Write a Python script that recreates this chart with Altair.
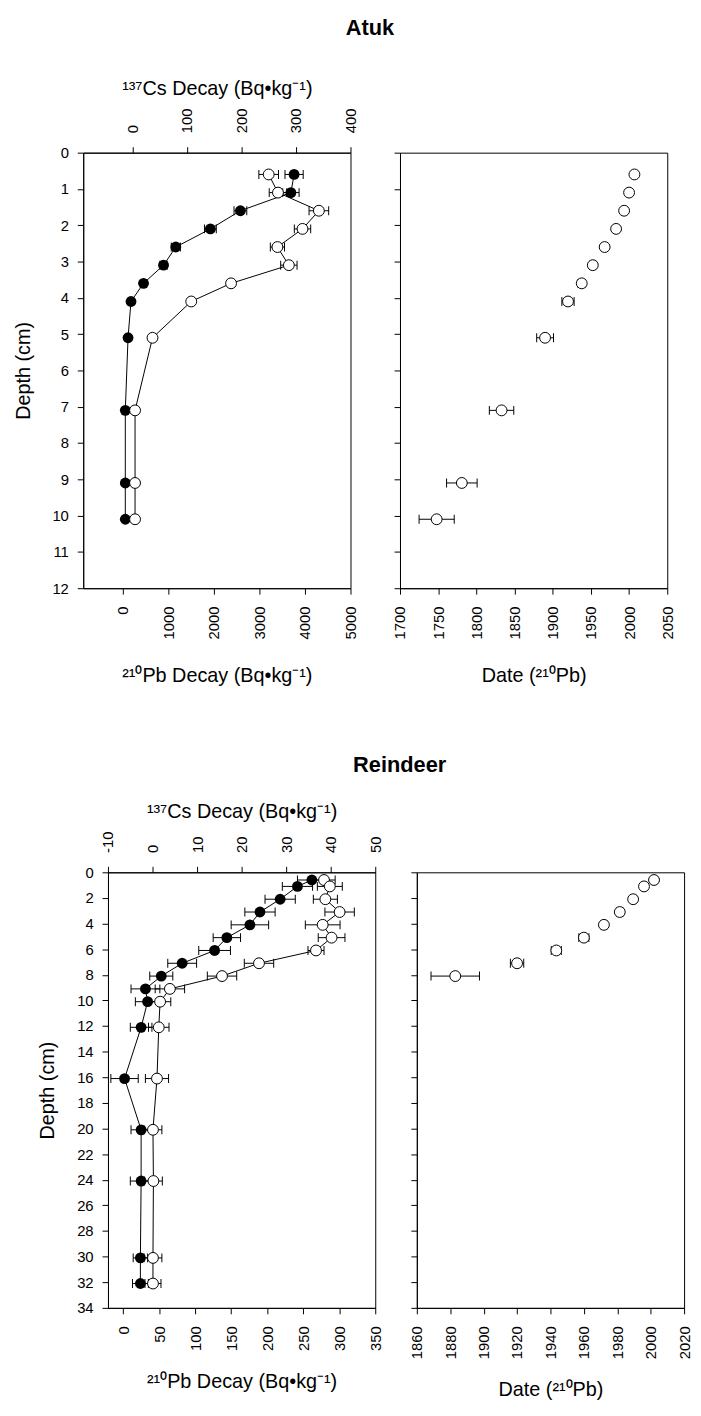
import altair as alt
import pandas as pd

FONT = "Liberation Sans"

# ---------------- Atuk ----------------
atuk_depth = [0.6, 1.1, 1.6, 2.1, 2.6, 3.1, 3.6, 4.1, 5.1, 7.1, 9.1, 10.1]
atuk_pb = [3760, 3690, 2580, 1920, 1160, 890, 450, 175, 110, 50, 50, 50]
atuk_pb_err = [200, 180, 140, 130, 100, 80, 60, 40, 30, 20, 20, 20]
atuk_cs = [250, 267, 342, 312, 266, 287, 181, 108, 37, 5, 5, 5]
atuk_cs_err = [18, 16, 18, 15, 13, 15, 5, 5, 4, 3, 3, 3]
atuk_date_depth = [0.6, 1.1, 1.6, 2.1, 2.6, 3.1, 3.6, 4.1, 5.1, 7.1, 9.1, 10.1]
atuk_date = [2007, 2000, 1993.5, 1983, 1968, 1952.5, 1938, 1920, 1890, 1833, 1781, 1748]
atuk_date_err = [1, 1, 2, 2, 3, 4, 5, 8, 11, 16, 20, 23]

atuk_depth_ticks = [0, 1, 2, 3, 4, 5, 6, 7, 8, 9, 10, 11, 12]
atuk_pb_ticks = [0, 1000, 2000, 3000, 4000, 5000]
atuk_cs_ticks = [0, 100, 200, 300, 400]
atuk_date_ticks = [1700, 1750, 1800, 1850, 1900, 1950, 2000, 2050]

# ---------------- Reindeer ----------------
rein_depth = [0.6, 1.1, 2.1, 3.1, 4.1, 5.1, 6.1, 7.1, 8.1, 9.1, 10.1, 12.1, 16.1, 20.1, 24.1, 30.1, 32.1]
rein_pb = [262, 242, 218, 190, 176, 144, 127, 82, 53, 31, 34, 25, 2, 25, 25, 24, 24]
rein_pb_err = [20, 21, 21, 21, 26, 19, 22, 20, 16, 20, 17, 15, 19, 14, 15, 10, 11]
rein_cs = [38.5, 39.8, 38.8, 42.0, 38.2, 40.2, 36.7, 23.9, 15.6, 3.9, 1.7, 1.4, 1.0, 0.1, 0.2, 0.1, 0.1]
rein_cs_err = [2.5, 2.8, 2.7, 3.3, 3.9, 3.0, 1.8, 3.3, 3.3, 3.3, 2.4, 2.3, 2.6, 2.0, 2.0, 2.0, 1.8]
rein_date_depth = [0.6, 1.1, 2.1, 3.1, 4.1, 5.1, 6.1, 7.1, 8.1]
rein_date = [2002, 1996, 1989.5, 1981.5, 1972, 1960, 1943.5, 1920, 1883]
rein_date_err = [1, 1, 1.5, 2, 2, 3, 3, 4, 14.5]

rein_depth_ticks = list(range(0, 35, 2))
rein_pb_ticks = [0, 50, 100, 150, 200, 250, 300, 350]
rein_cs_ticks = [-10, 0, 10, 20, 30, 40, 50]
rein_date_ticks = [1860, 1880, 1900, 1920, 1940, 1960, 1980, 2000, 2020]

PB_TITLE = "²¹⁰Pb Decay (Bq•kg⁻¹)"
CS_TITLE = "¹³⁷Cs Decay (Bq•kg⁻¹)"
DATE_TITLE = "Date (²¹⁰Pb)"
DEPTH_TITLE = "Depth (cm)"

W, H = 270, 440
MSIZE = 120


def y_enc(dom, ticks, labels=True):
    if labels:
        ax = alt.Axis(values=ticks, title=DEPTH_TITLE, format="d",
                      labelPadding=9, titlePadding=19)
    else:
        ax = alt.Axis(values=ticks, labels=False, title=None)
    return alt.Y("depth:Q", scale=alt.Scale(domain=dom, reverse=True, nice=False, zero=False), axis=ax)


def series_layer(df, field, dom, axis, yenc, filled):
    sc = alt.Scale(domain=dom, nice=False, zero=False)
    base = alt.Chart(df)
    line = base.mark_line(color="black", strokeWidth=1).encode(
        x=alt.X(f"{field}:Q", scale=sc, axis=axis), y=yenc, order=alt.Order("depth:Q"))
    bar = base.mark_rule(color="black", strokeWidth=1).encode(
        x=alt.X(f"{field}_lo:Q", scale=sc, axis=axis), x2=f"{field}_hi:Q", y=yenc)
    cap_lo = base.mark_tick(color="black", orient="vertical", size=9, thickness=1, opacity=1).encode(
        x=alt.X(f"{field}_lo:Q", scale=sc, axis=axis), y=yenc)
    cap_hi = base.mark_tick(color="black", orient="vertical", size=9, thickness=1, opacity=1).encode(
        x=alt.X(f"{field}_hi:Q", scale=sc, axis=axis), y=yenc)
    if filled:
        pts = base.mark_circle(color="black", size=MSIZE, opacity=1)
    else:
        pts = base.mark_circle(fill="white", stroke="black", strokeWidth=1, size=MSIZE, opacity=1)
    pts = pts.encode(x=alt.X(f"{field}:Q", scale=sc, axis=axis), y=yenc)
    return alt.layer(line, bar, cap_lo, cap_hi, pts)


def make_left(depth, pb, pb_err, cs, cs_err, pb_dom, pb_ticks, cs_dom, cs_ticks, y_dom, y_ticks, pb_tpad):
    df = pd.DataFrame({
        "depth": depth,
        "pb": pb,
        "pb_lo": [v - e for v, e in zip(pb, pb_err)],
        "pb_hi": [v + e for v, e in zip(pb, pb_err)],
        "cs": cs,
        "cs_lo": [v - e for v, e in zip(cs, cs_err)],
        "cs_hi": [v + e for v, e in zip(cs, cs_err)],
    })
    yenc = y_enc(y_dom, y_ticks)
    pb_axis = alt.Axis(orient="bottom", values=pb_ticks, title=PB_TITLE, format="d",
                       labelAngle=270, labelPadding=12, titlePadding=pb_tpad)
    cs_axis = alt.Axis(orient="top", values=cs_ticks, title=CS_TITLE, format="d",
                       labelAngle=270, labelPadding=14, titlePadding=10,
                       labelExpr="replace(datum.label, '−', '-')")
    pb_l = series_layer(df, "pb", pb_dom, pb_axis, yenc, True)
    cs_l = series_layer(df, "cs", cs_dom, cs_axis, yenc, False)
    return alt.layer(pb_l, cs_l).resolve_scale(x="independent").properties(width=W, height=H)


def make_right(depth, date, date_err, dom, ticks, y_dom, y_ticks, tpad):
    df = pd.DataFrame({
        "depth": depth,
        "date": date,
        "date_lo": [v - e for v, e in zip(date, date_err)],
        "date_hi": [v + e for v, e in zip(date, date_err)],
    })
    yenc = y_enc(y_dom, y_ticks, labels=False)
    ax = alt.Axis(orient="bottom", values=ticks, title=DATE_TITLE, format="d",
                  labelAngle=270, labelPadding=12, titlePadding=tpad)
    sc = alt.Scale(domain=dom, nice=False, zero=False)
    base = alt.Chart(df)
    bar = base.mark_rule(color="black", strokeWidth=1).encode(
        x=alt.X("date_lo:Q", scale=sc, axis=ax), x2="date_hi:Q", y=yenc)
    cap_lo = base.mark_tick(color="black", orient="vertical", size=9, thickness=1, opacity=1).encode(
        x=alt.X("date_lo:Q", scale=sc, axis=ax), y=yenc)
    cap_hi = base.mark_tick(color="black", orient="vertical", size=9, thickness=1, opacity=1).encode(
        x=alt.X("date_hi:Q", scale=sc, axis=ax), y=yenc)
    pts = base.mark_circle(fill="white", stroke="black", strokeWidth=1, size=MSIZE, opacity=1).encode(
        x=alt.X("date:Q", scale=sc, axis=ax), y=yenc)
    return alt.layer(bar, cap_lo, cap_hi, pts).properties(width=W, height=H)


atuk_left = make_left(atuk_depth, atuk_pb, atuk_pb_err, atuk_cs, atuk_cs_err,
                      [-875, 5000], atuk_pb_ticks, [-90, 400], atuk_cs_ticks,
                      [0, 12], atuk_depth_ticks, 27)
atuk_right = make_right(atuk_date_depth, atuk_date, atuk_date_err, [1700, 2050],
                        atuk_date_ticks, [0, 12], atuk_depth_ticks, 27)

rein_left = make_left(rein_depth, rein_pb, rein_pb_err, rein_cs, rein_cs_err,
                      [-21, 350], rein_pb_ticks, [-10, 50], rein_cs_ticks,
                      [0, 34], rein_depth_ticks, 21)
rein_right = make_right(rein_date_depth, rein_date, rein_date_err, [1860, 2020],
                        rein_date_ticks, [0, 34], rein_depth_ticks, 21)


def row_title(text, offset, dx):
    return alt.TitleParams(text, font=FONT, fontSize=22, fontWeight="bold", anchor="middle",
                           offset=offset, dx=dx, color="black")


row1 = alt.hconcat(atuk_left, atuk_right, spacing=50, bounds="flush").properties(
    title=row_title("Atuk", 38, 26))

spacer = alt.Chart(pd.DataFrame({"s": [0]})).mark_point(opacity=0).encode(
    x=alt.X("s:Q", axis=None), y=alt.Y("s:Q", axis=None)
).properties(width=25, height=5, view=alt.ViewBackground(strokeOpacity=0))

rein_inner = alt.hconcat(rein_left, rein_right, spacing=42, bounds="flush").properties(
    title=row_title("Reindeer", 24, 35))
row2 = alt.hconcat(spacer, rein_inner, spacing=0, bounds="flush")

chart = alt.vconcat(row1, row2, spacing=68).properties(
    padding={"left": 4, "top": 2, "right": 0, "bottom": 0}
).configure_view(
    stroke="black", strokeWidth=1
).configure_axis(
    labelFont=FONT, labelFontSize=15, labelColor="black",
    titleFont=FONT, titleFontSize=20, titleFontWeight="normal", titleColor="black",
    domainColor="black", domainWidth=1, tickColor="black", tickSize=6, tickWidth=1,
    grid=False, labelFlush=False, labelOverlap=False
)

chart.save("out.html", embed_options={"renderer": "svg", "actions": False})
